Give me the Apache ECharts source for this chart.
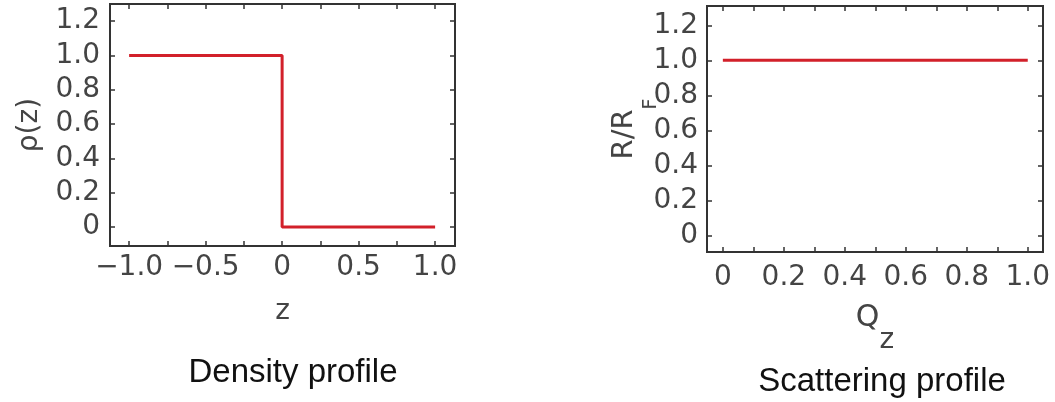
<!DOCTYPE html>
<html>
<head>
<meta charset="utf-8">
<title>Density and scattering profiles</title>
<script src="https://cdn.jsdelivr.net/npm/echarts@6/dist/echarts.min.js"></script>
<style>
  html, body { margin: 0; padding: 0; background: #ffffff; }
  #chart { width: 1055px; height: 402px; }
</style>
</head>
<body>
<div id="chart"></div>
<script>
// Step density profile rho(z)
const densityZ = [-1.0, 0.0, 0.0, 1.0];
const densityRho = [1.0, 1.0, 0.0, 0.0];

// Normalised reflectivity R/R_F against Q_z
const scatterQ = [0.0, 1.0];
const scatterR = [1.0, 1.0];

// Tick positions and labelled values
const densityXTicks = [-1.0, -0.75, -0.5, -0.25, 0.0, 0.25, 0.5, 0.75, 1.0];
const densityXLabels = [-1.0, -0.5, 0.0, 0.5, 1.0];
const scatterXTicks = [0.0, 0.1, 0.2, 0.3, 0.4, 0.5, 0.6, 0.7, 0.8, 0.9, 1.0];
const scatterXLabels = [0.0, 0.2, 0.4, 0.6, 0.8, 1.0];
const yTicks = [0.0, 0.2, 0.4, 0.6, 0.8, 1.0, 1.2];

const AXIS_FONT = 'DejaVu Sans';
const TEXT_GREY = '#444444';
const FRAME = '#333333';
const RED = '#d2202a';

function fmt(v) {
  if (Math.abs(v) < 1e-9) return '0';
  const s = Math.abs(v).toFixed(1);
  return (v < 0 ? '\u2212' : '') + s;
}

function tickStyle(values) {
  return { show: true, inside: true, length: 5, customValues: values,
           lineStyle: { color: FRAME, width: 1.5 } };
}

function mainAxis(gridIndex, position, min, max, ticks, labels, margin, extra) {
  return Object.assign({
    type: 'value', gridIndex, position, min, max,
    axisLine: { show: false, onZero: false },
    axisTick: tickStyle(ticks),
    splitLine: { show: false },
    axisLabel: { show: true, customValues: labels, formatter: fmt, margin,
                 fontFamily: AXIS_FONT, fontSize: 28, color: TEXT_GREY }
  }, extra || {});
}

function mirrorAxis(gridIndex, position, min, max, ticks) {
  return {
    type: 'value', gridIndex, position, min, max,
    axisLine: { show: false, onZero: false },
    axisTick: tickStyle(ticks),
    splitLine: { show: false },
    axisLabel: { show: false }
  };
}

const nameBase = { fontFamily: AXIS_FONT, fontSize: 28, color: TEXT_GREY };
const captionStyle = { fontFamily: 'Liberation Sans', fontSize: 33, fontWeight: 'normal', color: '#111111' };

const xRange0 = [-1.125, 1.13];
const yRange0 = [-0.11, 1.3];
const xRange1 = [-0.052, 1.05];
const yRange1 = [-0.095, 1.31];

const option = {
  animation: false,
  backgroundColor: '#ffffff',
  title: [
    { text: 'Density profile', left: 288, top: 351, textAlign: 'center', textStyle: captionStyle },
    { text: 'Scattering profile', left: 877, top: 360, textAlign: 'center', textStyle: captionStyle }
  ],
  grid: [
    { left: 110, right: 600, top: 4, bottom: 156, show: true,
      borderColor: FRAME, borderWidth: 2, backgroundColor: 'transparent' },
    { left: 707, right: 12, top: 6, bottom: 150, show: true,
      borderColor: FRAME, borderWidth: 2, backgroundColor: 'transparent' }
  ],
  xAxis: [
    mainAxis(0, 'bottom', xRange0[0], xRange0[1], densityXTicks, densityXLabels, 8, {
      name: 'z', nameLocation: 'middle', nameGap: 52, nameTextStyle: nameBase
    }),
    mirrorAxis(0, 'top', xRange0[0], xRange0[1], densityXTicks),
    mainAxis(1, 'bottom', xRange1[0], xRange1[1], scatterXTicks, scatterXLabels, 12, {
      name: '{m|Q}{s|z}', nameLocation: 'middle', nameGap: 29,
      nameTextStyle: Object.assign({}, nameBase, {
        rich: {
          m: { fontFamily: AXIS_FONT, fontSize: 30, color: TEXT_GREY },
          s: { fontFamily: AXIS_FONT, fontSize: 28, color: TEXT_GREY, padding: [46, 0, 0, 0] }
        }
      })
    }),
    mirrorAxis(1, 'top', xRange1[0], xRange1[1], scatterXTicks)
  ],
  yAxis: [
    mainAxis(0, 'left', yRange0[0], yRange0[1], yTicks, yTicks, 10, {
      name: '\u03c1(z)', nameLocation: 'middle', nameRotate: 90, nameGap: 66,
      nameTextStyle: nameBase
    }),
    mirrorAxis(0, 'right', yRange0[0], yRange0[1], yTicks),
    mainAxis(1, 'left', yRange1[0], yRange1[1], yTicks, yTicks, 9, {
      name: '{m|R/R}{s|F}', nameLocation: 'middle', nameRotate: 90, nameGap: 46,
      nameMoveOverlap: false,
      nameTextStyle: Object.assign({}, nameBase, {
        rich: {
          m: { fontFamily: AXIS_FONT, fontSize: 29, color: TEXT_GREY },
          s: { fontFamily: AXIS_FONT, fontSize: 19, color: TEXT_GREY, padding: [54, 0, 0, 0] }
        }
      })
    }),
    mirrorAxis(1, 'right', yRange1[0], yRange1[1], yTicks)
  ],
  series: [
    {
      type: 'line', xAxisIndex: 0, yAxisIndex: 0,
      data: densityZ.map((z, i) => [z, densityRho[i]]),
      showSymbol: false, silent: true,
      lineStyle: { color: RED, width: 3 }
    },
    {
      type: 'line', xAxisIndex: 2, yAxisIndex: 2,
      data: scatterQ.map((q, i) => [q, scatterR[i]]),
      showSymbol: false, silent: true,
      lineStyle: { color: RED, width: 3 }
    }
  ]
};

const chart = echarts.init(document.getElementById('chart'), null, { renderer: 'canvas' });
chart.setOption(option);
</script>
</body>
</html>
